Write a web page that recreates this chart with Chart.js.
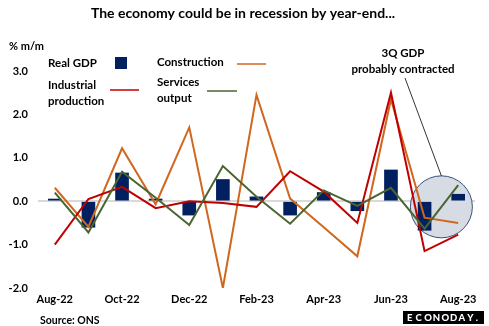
<!DOCTYPE html>
<html>
<head>
<meta charset="utf-8">
<script src="https://cdn.jsdelivr.net/npm/chart.js@4/dist/chart.umd.min.js"></script>
<style>
  html, body { margin: 0; padding: 0; background: #fff; }
  #wrap { width: 489px; height: 326px; }
</style>
</head>
<body>
<div id="wrap"><canvas id="myChart" width="489" height="326"></canvas></div>
<script>
const months = ['Aug-22', 'Sep-22', 'Oct-22', 'Nov-22', 'Dec-22', 'Jan-23', 'Feb-23',
  'Mar-23', 'Apr-23', 'May-23', 'Jun-23', 'Jul-23', 'Aug-23'];
const realGdp = [0.05, -0.6, 0.65, 0.05, -0.32, 0.5, 0.1, -0.32, 0.2, -0.22, 0.72, -0.67, 0.16];
const industrialProduction = [-1.0, 0.05, 0.33, -0.16, 0.0, -0.04, -0.13, 0.69, 0.22, -0.5, 2.5, -1.15, -0.77];
const construction = [0.31, -0.59, 1.22, -0.07, 1.7, -2.0, 2.45, 0.06, -0.6, -1.27, 2.35, -0.38, -0.5];
const servicesOutput = [0.2, -0.72, 0.68, 0.08, -0.55, 0.81, 0.1, -0.52, 0.25, -0.11, 0.31, -0.63, 0.37];
const yMin = -2;
const yMax = 3;

const NAVY = '#002060';
const RED = '#C00000';
const ORANGE = '#D0671F';
const GREEN = '#4A6530';
const FONT = 'Lato, "Open Sans", sans-serif';

// circle around Jul/Aug 23 + the text, legend, source and logo
const overlay = {
  id: 'overlay',
  beforeDatasetsDraw(chart) {
    const { ctx, scales } = chart;
    const cx = (scales.x.getPixelForValue(11) + scales.x.getPixelForValue(12)) / 2;
    const cy = scales.y.getPixelForValue(-0.13);
    ctx.save();
    ctx.beginPath();
    ctx.ellipse(cx, cy, 31, 31, 0, 0, Math.PI * 2);
    ctx.fillStyle = '#D7DCE4';
    ctx.fill();
    ctx.lineWidth = 1;
    ctx.strokeStyle = '#3A5078';
    ctx.stroke();
    ctx.restore();
  },
  afterDraw(chart) {
    const { ctx, scales } = chart;
    ctx.save();
    ctx.fillStyle = '#000';
    ctx.textBaseline = 'middle';

    ctx.font = 'bold 14px ' + FONT;
    ctx.textAlign = 'center';
    ctx.fillText('The economy could be in recession by year-end...', 243, 13);

    ctx.font = 'bold 11px ' + FONT;
    ctx.textAlign = 'left';
    ctx.fillText('% m/m', 9, 46);

    // legend
    ctx.font = 'bold 11.5px ' + FONT;
    ctx.fillText('Real GDP', 48, 63);
    ctx.fillStyle = NAVY;
    ctx.fillRect(115, 57, 12, 12);
    ctx.fillStyle = '#000';
    ctx.fillText('Construction', 157, 62);
    ctx.fillText('Industrial', 48, 85);
    ctx.fillText('production', 48, 101);
    ctx.fillText('Services', 157, 82);
    ctx.fillText('output', 157, 98);
    ctx.lineWidth = 1.5;
    [[237, 266, 64, ORANGE], [110, 139, 90, RED], [207, 237, 91, GREEN]].forEach(([x1, x2, y, c]) => {
      ctx.strokeStyle = c;
      ctx.beginPath();
      ctx.moveTo(x1, y);
      ctx.lineTo(x2, y);
      ctx.stroke();
    });

    // annotation
    ctx.textAlign = 'center';
    ctx.fillText('3Q GDP', 403, 53);
    ctx.fillText('probably contracted', 403, 69);
    const cx = (scales.x.getPixelForValue(11) + scales.x.getPixelForValue(12)) / 2;
    const cy = scales.y.getPixelForValue(-0.13);
    ctx.strokeStyle = '#000';
    ctx.lineWidth = 0.8;
    ctx.beginPath();
    ctx.moveTo(405, 78);
    ctx.lineTo(cx, cy - 31);
    ctx.stroke();

    ctx.textAlign = 'left';
    ctx.font = 'bold 10.5px ' + FONT;
    ctx.fillText('Source: ONS', 40, 321);

    // logo
    ctx.fillStyle = '#000';
    ctx.fillRect(403, 311, 81, 13);
    ctx.fillStyle = '#fff';
    ctx.font = '900 9.5px ' + FONT;
    const logo = 'ECONODAY.';
    let lx = 407;
    for (const ch of logo) {
      ctx.fillText(ch, lx, 318);
      lx += ch === '.' ? 4 : 8.6;
    }
    ctx.restore();
  }
};

new Chart(document.getElementById('myChart'), {
  data: {
    labels: months,
    datasets: [
      { type: 'line', label: 'Services output', data: servicesOutput, borderColor: GREEN,
        borderWidth: 2, pointRadius: 0, tension: 0, order: 1 },
      { type: 'line', label: 'Industrial production', data: industrialProduction, borderColor: RED,
        borderWidth: 2, pointRadius: 0, tension: 0, order: 2 },
      { type: 'line', label: 'Construction', data: construction, borderColor: ORANGE,
        borderWidth: 2, pointRadius: 0, tension: 0, order: 3 },
      { type: 'bar', label: 'Real GDP', data: realGdp, backgroundColor: NAVY,
        barThickness: 13, order: 4 },
    ],
  },
  options: {
    responsive: false,
    animation: false,
    events: [],
    layout: { padding: { top: 71, right: 14, left: 0, bottom: 0 } },
    plugins: { legend: { display: false }, tooltip: { enabled: false } },
    scales: {
      x: {
        offset: true,
        grid: { display: false, drawTicks: false },
        border: { display: false },
        afterFit: (scale) => { scale.height = 38; },
        ticks: {
          autoSkip: false,
          maxRotation: 0,
          padding: 5,
          color: '#000',
          font: { family: FONT, size: 11, weight: 'bold' },
          callback: (v, i) => (i % 2 === 0 ? months[i] : ''),
        },
      },
      y: {
        min: yMin,
        max: yMax,
        afterFit: (scale) => { scale.width = 38; },
        border: { display: false },
        grid: {
          drawTicks: false,
          lineWidth: 2,
          color: (c) => (c.tick && c.tick.value === 0 ? '#D9D9D9' : 'transparent'),
        },
        ticks: {
          stepSize: 1,
          padding: 10,
          color: '#000',
          font: { family: FONT, size: 11, weight: 'bold' },
          callback: (v) => v.toFixed(1),
        },
      },
    },
  },
  plugins: [overlay],
});
</script>
</body>
</html>
